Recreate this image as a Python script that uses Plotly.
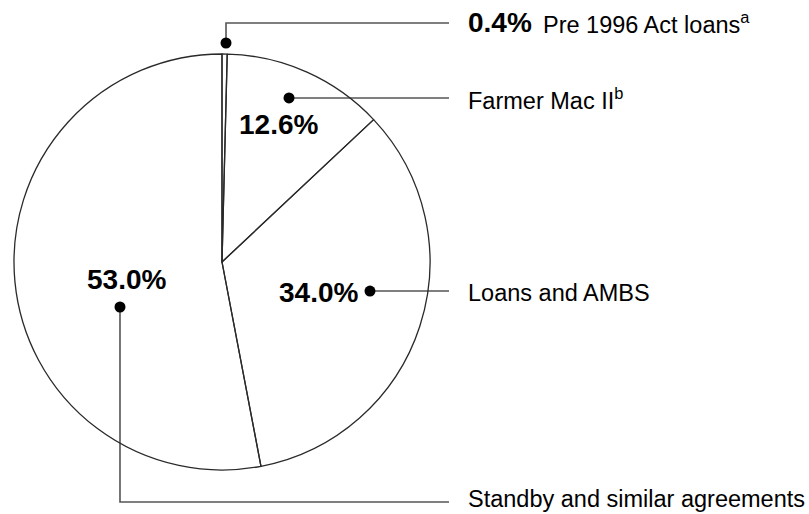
import math
import plotly.graph_objects as go

# ---- data ----
categories = ["Pre 1996 Act loans", "Farmer Mac II", "Loans and AMBS", "Standby and similar agreements"]
label_html = ["Pre 1996 Act loans<sup>a</sup>", "Farmer Mac II<sup>b</sup>", "Loans and AMBS",
              "Standby and similar agreements"]
shares = [0.4, 12.6, 34.0, 53.0]
pct_text = ["0.4%", "12.6%", "34.0%", "53.0%"]

# ---- layout / geometry (pixels) ----
W, H = 809, 514
CX, CY, R = 222, 262, 208
TEXT_X = 466
LINE_END_X = 449
LEADER_COLOR = "#555555"
OUTLINE_COLOR = "#2a2a2a"
FONT = "Liberation Sans, Arial, Helvetica, sans-serif"
NAME_SIZE = 23.5
PCT_SIZE = 28

# slice mid-angles (clockwise from 12 o'clock), derived from the data
total = sum(shares)
mids = []
acc = 0.0
for v in shares:
    ang = v / total * 360.0
    mids.append(acc + ang / 2)
    acc += ang

def polar(theta_deg, rfrac):
    t = math.radians(theta_deg)
    return CX + rfrac * R * math.sin(t), CY - rfrac * R * math.cos(t)

# dot placement: (angle offset from slice mid, radius fraction)
dot_style = [(0.33, 1.053), (-1.9, 0.852), (-6.9, 0.725), (-18.4, 0.536)]
# percent-label placement (absolute angle, radius fraction) for slices 1..3
pct_style = {1: (22.5, 0.715), 2: (107.2, 0.488), 3: (259.3, 0.465)}
# y of the leader row and of its text for each label
row_y = [23, 98, 292, 502]
text_y = [23, 99, 293, 499]

fig = go.Figure()

fig.add_trace(go.Pie(
    labels=categories, values=shares, sort=False, direction="clockwise", rotation=0,
    marker=dict(colors=["rgba(255,255,255,0)"] * 4, line=dict(color=OUTLINE_COLOR, width=1.3)),
    textinfo="none", hoverinfo="label+percent", showlegend=False,
    domain=dict(x=[(CX - R) / W, (CX + R) / W], y=[(H - CY - R) / H, (H - CY + R) / H]),
))

dots = [polar(m + off, rf) for m, (off, rf) in zip(mids, dot_style)]

# leader lines
for i, (dx, dy) in enumerate(dots):
    y = row_y[i]
    if i in (1, 2):
        xs, ys = [dx, LINE_END_X], [dy, dy]
    else:
        xs, ys = [dx, dx, LINE_END_X], [dy, y, y]
    fig.add_trace(go.Scatter(x=xs, y=ys, mode="lines", line=dict(color=LEADER_COLOR, width=1.6),
                             hoverinfo="skip", showlegend=False))

fig.add_trace(go.Scatter(x=[d[0] for d in dots], y=[d[1] for d in dots], mode="markers",
                         marker=dict(color="black", size=11), hoverinfo="skip", showlegend=False))

annotations = []
# category labels
for i in range(4):
    y = text_y[i]
    if i == 0:
        annotations.append(dict(x=TEXT_X, y=y - 1, text="<b>" + pct_text[0] + "</b>", showarrow=False,
                                xanchor="left", yanchor="middle", font=dict(size=PCT_SIZE, color="black")))
        annotations.append(dict(x=TEXT_X + 75, y=y, text=label_html[0], showarrow=False,
                                xanchor="left", yanchor="middle", font=dict(size=NAME_SIZE, color="black")))
    else:
        annotations.append(dict(x=TEXT_X, y=y, text=label_html[i], showarrow=False,
                                xanchor="left", yanchor="middle", font=dict(size=NAME_SIZE, color="black")))
# percent labels inside the pie
for i, (ang, rf) in pct_style.items():
    px, py = polar(ang, rf)
    annotations.append(dict(x=px, y=py, text="<b>" + pct_text[i] + "</b>", showarrow=False,
                            xanchor="center", yanchor="middle", font=dict(size=PCT_SIZE, color="black")))

fig.update_layout(
    width=W, height=H, autosize=False,
    margin=dict(l=0, r=0, t=0, b=0),
    paper_bgcolor="white", plot_bgcolor="rgba(0,0,0,0)",
    font=dict(family=FONT, color="black"),
    xaxis=dict(range=[0, W], visible=False, fixedrange=True),
    yaxis=dict(range=[H, 0], visible=False, fixedrange=True),
    annotations=annotations,
    showlegend=False,
)

fig.write_html("out.html", config={"displayModeBar": False},
               post_script="document.body.style.margin='0';document.body.style.overflow='hidden';")
